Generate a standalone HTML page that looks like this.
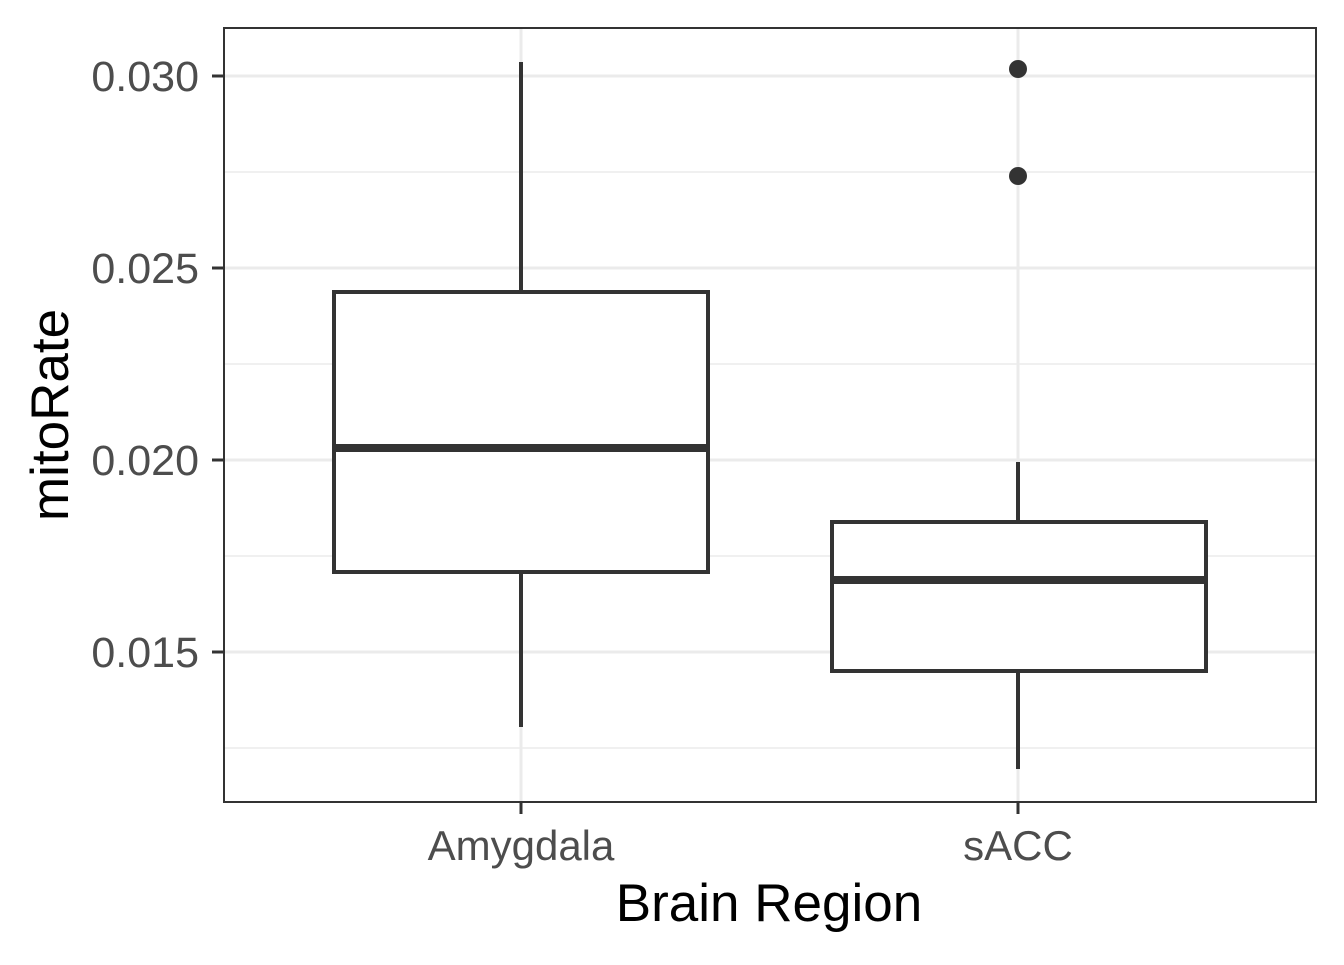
<!DOCTYPE html>
<html><head><style>body{margin:0;background:#fff}</style></head><body>
<svg width="1344" height="960" xmlns="http://www.w3.org/2000/svg" font-family="Liberation Sans, sans-serif">
<rect width="1344" height="960" fill="#fff"/>
<g stroke="#ebebeb" stroke-width="1.5">
<line x1="224" x2="1316" y1="172" y2="172"/><line x1="224" x2="1316" y1="364" y2="364"/>
<line x1="224" x2="1316" y1="556" y2="556"/><line x1="224" x2="1316" y1="748" y2="748"/>
</g>
<g stroke="#ebebeb" stroke-width="3">
<line x1="224" x2="1316" y1="76" y2="76"/><line x1="224" x2="1316" y1="268" y2="268"/>
<line x1="224" x2="1316" y1="460" y2="460"/><line x1="224" x2="1316" y1="652" y2="652"/>
<line x1="521" x2="521" y1="28" y2="802"/><line x1="1018" x2="1018" y1="28" y2="802"/>
</g>
<g stroke="#333" stroke-width="4" fill="#fff">
<line x1="521" x2="521" y1="62" y2="292"/><line x1="521" x2="521" y1="572" y2="727"/>
<rect x="334" y="292" width="374" height="280"/>
<line x1="334" x2="708" y1="448" y2="448" stroke-width="8"/>
<line x1="1018" x2="1018" y1="462" y2="522"/><line x1="1018" x2="1018" y1="671" y2="769"/>
<rect x="832" y="522" width="374" height="149"/>
<line x1="832" x2="1206" y1="580" y2="580" stroke-width="8"/>
</g>
<circle cx="1018" cy="69" r="9" fill="#333"/><circle cx="1018" cy="176" r="9" fill="#333"/>
<rect x="224" y="28" width="1092" height="774" fill="none" stroke="#333" stroke-width="2"/>
<g stroke="#333" stroke-width="3">
<line x1="212" x2="224" y1="76" y2="76"/><line x1="212" x2="224" y1="268" y2="268"/>
<line x1="212" x2="224" y1="460" y2="460"/><line x1="212" x2="224" y1="652" y2="652"/>
<line x1="521" x2="521" y1="802" y2="814"/><line x1="1018" x2="1018" y1="802" y2="814"/>
</g>
<g fill="#4d4d4d" font-size="43" text-anchor="end">
<text x="199" y="91">0.030</text><text x="199" y="283">0.025</text>
<text x="199" y="475">0.020</text><text x="199" y="667">0.015</text>
</g>
<g fill="#4d4d4d" font-size="42" text-anchor="middle">
<text x="521" y="860">Amygdala</text><text x="1018" y="860">sACC</text>
</g>
<text x="769" y="921" font-size="53" text-anchor="middle" fill="#000">Brain Region</text>
<text transform="translate(68,415) rotate(-90)" font-size="53" text-anchor="middle" fill="#000">mitoRate</text>
</svg>
</body></html>
